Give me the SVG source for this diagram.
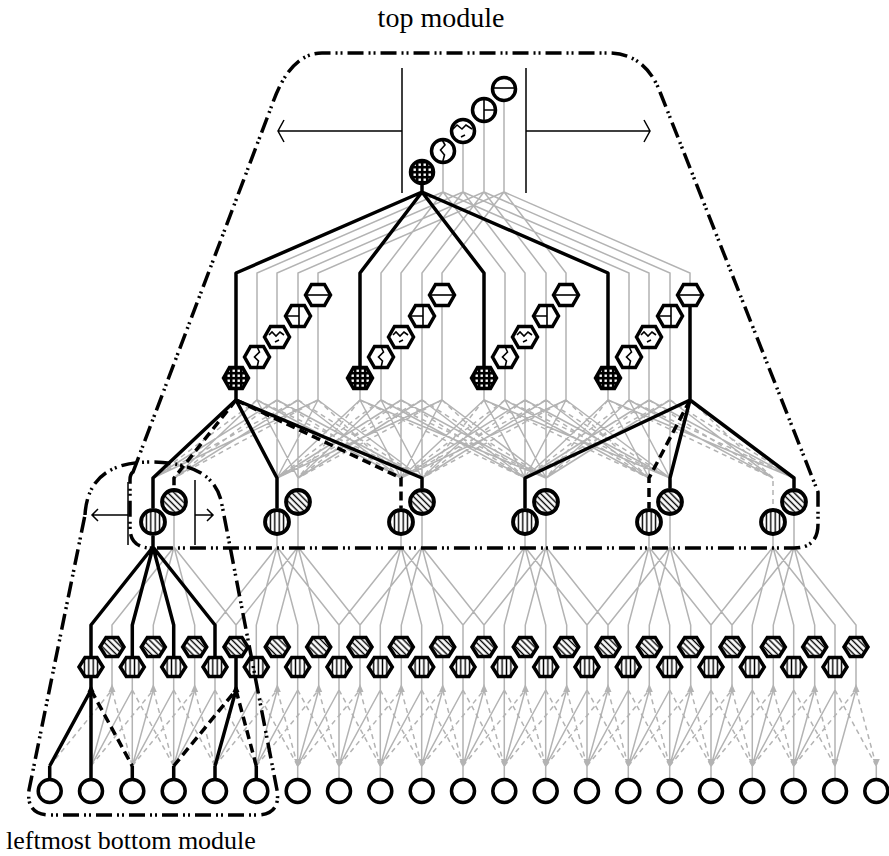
<svg xmlns="http://www.w3.org/2000/svg" width="889" height="856" viewBox="0 0 889 856">
<style>
.g{fill:none;stroke:#b3b3b3;stroke-width:1.5}
.gd{fill:none;stroke:#b3b3b3;stroke-width:1.5;stroke-dasharray:5 4}
.b{fill:none;stroke:#000;stroke-width:3.5;stroke-linejoin:round}
.bd{fill:none;stroke:#000;stroke-width:3.5;stroke-dasharray:9 5}
.t{fill:none;stroke:#000;stroke-width:1.5}
.n{fill:#fff;stroke:#000;stroke-width:3.5}
.m{fill:none;stroke:#000;stroke-width:1.6}
.mod{fill:none;stroke:#000;stroke-width:3.5;stroke-dasharray:16 5 2 3 2 5}
.ag{fill:#b3b3b3}
.ab{fill:#000}
text{font-family:"Liberation Serif","Times New Roman",serif;font-size:27px;fill:#000}
</style>
<defs>
<pattern id="gp" width="5" height="5" patternUnits="userSpaceOnUse"><rect width="5" height="5" fill="#000"/><rect x="1.5" y="1.5" width="2.4" height="2.4" fill="#fff"/></pattern>
<pattern id="vs" width="4.4" height="4" patternUnits="userSpaceOnUse"><rect width="4.4" height="4" fill="#fff"/><rect x="1.5" width="1.4" height="4" fill="#000"/></pattern>
<pattern id="ds" width="4.4" height="4" patternUnits="userSpaceOnUse" patternTransform="rotate(-45)"><rect width="4.4" height="4" fill="#fff"/><rect x="1.5" width="1.4" height="4" fill="#000"/></pattern>
<path id="au" d="M0-6L3.5 2H-3.5Z"/>
<path id="ad" d="M0 6L3.5-2H-3.5Z"/>
<g id="cG"><circle r="11.5" fill="url(#gp)" stroke="#000" stroke-width="3.5"/></g>
<g id="cW"><circle r="11.5" class="n"/><path class="m" d="M-1-11.5L2-6L-2.5-1L1.5 4L-0.5 11.5"/></g>
<g id="cZ"><circle r="11.5" class="n"/><path class="m" d="M-10-2L-6-6L-1-2L3-6L9-2M-2 6L2 4"/></g>
<g id="cH"><circle r="11.5" class="n"/><path class="m" d="M0-11.5V11.5M0 0H11.5"/></g>
<g id="cB"><circle r="11.5" class="n"/><path class="m" d="M-11.5-1H11.5"/></g>
<g id="hG"><polygon points="-12.5,0 -6.5,-10.5 6.5,-10.5 12.5,0 6.5,10.5 -6.5,10.5" fill="url(#gp)" stroke="#000" stroke-width="3.5"/></g>
<g id="hW"><polygon class="n" points="-12.5,0 -6.5,-10.5 6.5,-10.5 12.5,0 6.5,10.5 -6.5,10.5"/><path class="m" d="M0-10.5L2.5-5L-2.5 0L1.5 4L0 10.5"/></g>
<g id="hZ"><polygon class="n" points="-12.5,0 -6.5,-10.5 6.5,-10.5 12.5,0 6.5,10.5 -6.5,10.5"/><path class="m" d="M-8-2L-5-5L-1-1L3-5L7-2M-2 5L2 3"/></g>
<g id="hH"><polygon class="n" points="-12.5,0 -6.5,-10.5 6.5,-10.5 12.5,0 6.5,10.5 -6.5,10.5"/><path class="m" d="M1-10.5V10.5M1 0H-12"/></g>
<g id="hB"><polygon class="n" points="-12.5,0 -6.5,-10.5 6.5,-10.5 12.5,0 6.5,10.5 -6.5,10.5"/><path class="m" d="M-12.5 0H12.5"/></g>
<g id="lV"><circle r="12" fill="url(#vs)" stroke="#000" stroke-width="3.8"/></g>
<g id="lD"><circle r="12" fill="url(#ds)" stroke="#000" stroke-width="3.8"/></g>
<g id="rV"><polygon points="-12,0 -6,-9.5 6,-9.5 12,0 6,9.5 -6,9.5" fill="url(#vs)" stroke="#000" stroke-width="3.5"/></g>
<g id="rD"><polygon points="-12,0 -6,-9.5 6,-9.5 12,0 6,9.5 -6,9.5" fill="url(#ds)" stroke="#000" stroke-width="3.5"/></g>
<g id="bc"><circle r="11.5" class="n"/></g>
</defs>
<rect width="889" height="856" fill="#fff"/>

<g id="connectors">
<path class="g" d="M443 163V192L257 273V346M443 192L381 273V346M443 192L505 273V346M443 192L629 273V346
M463 143V192L277 273V326M463 192L401 273V326M463 192L525 273V326M463 192L649 273V326
M484 122V192L298 273V305M484 192L422 273V305M484 192L546 273V305M484 192L670 273V305
M504 101V192L318 273V284M504 192L442 273V284M504 192L566 273V284M504 192L690 273V284"/>
<path class="g" d="M257 367V400M277 347V400M298 326V400M318 305V400M360 388V400M381 367V400M401 347V400M422 326V400M442 305V400M484 388V400M505 367V400M525 347V400M546 326V400M566 305V400M608 388V400M629 367V400M649 347V400M670 326V400"/>
<path class="g" d="M257 400L174 478M257 400L298 478M257 400L401 478
M277 400L153 478M277 400L277 478M277 400L422 478
M298 400L174 478M298 400L298 478M298 400L401 478
M318 400L153 478M318 400L277 478M318 400L422 478
M360 400L277 478M360 400L401 478M360 400L546 478
M381 400L298 478M381 400L422 478M381 400L525 478
M401 400L277 478M401 400L401 478M401 400L546 478
M422 400L298 478M422 400L422 478M422 400L525 478
M442 400L277 478M442 400L401 478M442 400L546 478
M484 400L401 478M484 400L525 478M484 400L670 478
M505 400L422 478M505 400L546 478M505 400L649 478
M525 400L401 478M525 400L525 478M525 400L670 478
M546 400L422 478M546 400L546 478M546 400L649 478
M566 400L401 478M566 400L525 478M566 400L670 478
M608 400L525 478M608 400L649 478M608 400L794 478
M629 400L546 478M629 400L670 478M629 400L773 478
M649 400L525 478M649 400L649 478M649 400L794 478
M670 400L546 478M670 400L670 478M670 400L773 478
M298 478V488M546 478V488"/>
<path class="gd" d="M257 400L153 478M257 400L422 478
M277 400L174 478M277 400L401 478
M298 400L153 478M298 400L422 478
M318 400L174 478M318 400L401 478
M360 400L298 478M360 400L525 478M401 400L298 478M401 400L525 478M442 400L298 478M442 400L525 478
M381 400L277 478M381 400L546 478M422 400L277 478M422 400L546 478
M484 400L422 478M484 400L649 478M525 400L422 478M525 400L649 478M566 400L422 478M566 400L649 478
M505 400L401 478M505 400L670 478M546 400L401 478M546 400L670 478
M608 400L546 478M608 400L773 478M649 400L546 478M649 400L773 478
M629 400L525 478M629 400L794 478M670 400L525 478M670 400L794 478
M690 400L773 478V508"/>
<path class="g" d="M277 536V547M401 536V547M525 536V547M649 536V547M773 536V547
M174 516V547M298 516V547M422 516V547M546 516V547M670 516V547M794 516V547
M215 657V625L277 547L339 625V657M256.3 657V625L277 547L297.7 625V657
M339 657V625L401 547L463 625V657M380.3 657V625L401 547L421.7 625V657
M463 657V625L525 547L587 625V657M504.3 657V625L525 547L545.7 625V657
M587 657V625L649 547L711 625V657M628.3 657V625L649 547L669.7 625V657
M711 657V625L773 547L835 625V657M752.3 657V625L773 547L793.7 625V657
M112 637V625L174 547L236 625V637M153.3 637V625L174 547L194.7 625V637
M236 637V625L298 547L360 625V637M277.3 637V625L298 547L318.7 625V637
M360 637V625L422 547L484 625V637M401.3 637V625L422 547L442.7 625V637
M484 637V625L546 547L608 625V637M525.3 637V625L546 547L566.7 625V637
M608 637V625L670 547L732 625V637M649.3 637V625L670 547L690.7 625V637
M732 637V625L794 547L856 625V637M773.3 637V625L794 547L814.7 625V637"/>
<path class="g" d="M132.3 677V766M91 766L132.3 690M173.7 677V766M132.3 766L173.7 690M215 677V766M173.7 766L215 690
M256.3 677V766M215 766L256.3 690M297.7 677V766M256.3 766L297.7 690M339 677V766M297.7 766L339 690
M380.3 677V766M339 766L380.3 690M421.7 677V766M380.3 766L421.7 690M463 677V766M421.7 766L463 690
M504.3 677V766M463 766L504.3 690M545.7 677V766M504.3 766L545.7 690M587 677V766M545.7 766L587 690
M628.3 677V766M587 766L628.3 690M669.7 677V766M628.3 766L669.7 690M711 677V766M669.7 766L711 690
M752.3 677V766M711 766L752.3 690M793.7 677V766M752.3 766L793.7 690M835 677V766M793.7 766L835 690
M112 657V690L91 766M153.3 657V690L132.3 766M194.7 657V690L173.7 766M277.3 657V690L256.3 766
M318.7 657V690L297.7 766M360 657V690L339 766M401.3 657V690L380.3 766M442.7 657V690L421.7 766
M484 657V690L463 766M525.3 657V690L504.3 766M566.7 657V690L545.7 766M608 657V690L587 766
M649.3 657V690L628.3 766M690.7 657V690L669.7 766M732 657V690L711 766M773.3 657V690L752.3 766
M814.7 657V690L793.7 766M856 657V690L835 766
M297.7 766V778M339 766V778M380.3 766V778M421.7 766V778M463 766V778M504.3 766V778M545.7 766V778M587 766V778
M628.3 766V778M669.7 766V778M711 766V778M752.3 766V778M793.7 766V778M835 766V778M876.3 766V778"/>
<path class="gd" d="M132.3 690L173.7 766M173.7 690L215 766M215 690L256.3 766M256.3 690L297.7 766M297.7 690L339 766
M339 690L380.3 766M380.3 690L421.7 766M421.7 690L463 766M463 690L504.3 766M504.3 690L545.7 766
M545.7 690L587 766M587 690L628.3 766M628.3 690L669.7 766M669.7 690L711 766M711 690L752.3 766
M752.3 690L793.7 766M793.7 690L835 766M835 690L876.3 766
M49.7 766L112 690L132.3 766M91 766L153.3 690L173.7 766M132.3 766L194.7 690L215 766
M215 766L277.3 690L297.7 766M256.3 766L318.7 690L339 766M297.7 766L360 690L380.3 766
M339 766L401.3 690L421.7 766M380.3 766L442.7 690L463 766M421.7 766L484 690L504.3 766
M463 766L525.3 690L545.7 766M504.3 766L566.7 690L587 766M545.7 766L608 690L628.3 766
M587 766L649.3 690L669.7 766M628.3 766L690.7 690L711 766M669.7 766L732 690L752.3 766
M711 766L773.3 690L793.7 766M752.3 766L814.7 690L835 766M793.7 766L856 690L876.3 766"/>
<g class="ag">
<use href="#au" x="112" y="690"/><use href="#au" x="153.3" y="690"/><use href="#au" x="194.7" y="690"/>
<use href="#au" x="277.3" y="690"/><use href="#au" x="318.7" y="690"/><use href="#au" x="360" y="690"/>
<use href="#au" x="401.3" y="690"/><use href="#au" x="442.7" y="690"/><use href="#au" x="484" y="690"/>
<use href="#au" x="525.3" y="690"/><use href="#au" x="566.7" y="690"/><use href="#au" x="608" y="690"/>
<use href="#au" x="649.3" y="690"/><use href="#au" x="690.7" y="690"/><use href="#au" x="732" y="690"/>
<use href="#au" x="773.3" y="690"/><use href="#au" x="814.7" y="690"/><use href="#au" x="856" y="690"/>
<use href="#ad" x="297.7" y="761"/><use href="#ad" x="339" y="761"/><use href="#ad" x="380.3" y="761"/>
<use href="#ad" x="421.7" y="761"/><use href="#ad" x="463" y="761"/><use href="#ad" x="504.3" y="761"/>
<use href="#ad" x="545.7" y="761"/><use href="#ad" x="587" y="761"/><use href="#ad" x="628.3" y="761"/>
<use href="#ad" x="669.7" y="761"/><use href="#ad" x="711" y="761"/><use href="#ad" x="752.3" y="761"/>
<use href="#ad" x="793.7" y="761"/><use href="#ad" x="835" y="761"/><use href="#ad" x="876.3" y="761"/>
</g>
<path class="b" d="M422 184V192M422 192L236 273V367M422 192L360 273V367M422 192L484 273V367M422 192L608 273V367"/>
<path class="b" d="M236 388V400M236 400L153 478V508M236 400L277 478V508M236 400L422 478V488
M690 305V400M690 400L525 478V508M690 400L670 478V488M690 400L794 478V488"/>
<path class="bd" d="M236 400L174 478V488M236 400L401 478V508M690 400L649 478V508"/>
<path class="b" d="M153 536V547M91 657V625L153 547L215 625V657M132.3 657V625L153 547L173.7 625V657"/>
<path class="b" d="M91 677V766M49.7 766L91 690M236 657V690L215 766
M49.7 766V778M91 766V778M132.3 766V778M173.7 766V778M215 766V778M256.3 766V778"/>
<path class="bd" d="M91 690L132.3 766M173.7 766L236 690L256.3 766"/>
<g class="ab"><use href="#au" x="91" y="690"/><use href="#au" x="236" y="690"/></g>
</g>

<g id="n_top0"><use href="#cG" x="422" y="172"/></g>
<g id="n_top1"><use href="#cW" x="443" y="151"/></g>
<g id="n_top2"><use href="#cZ" x="463" y="131"/></g>
<g id="n_top3"><use href="#cH" x="484" y="110"/></g>
<g id="n_top4"><use href="#cB" x="504" y="89"/></g>

<g id="n_m0_0"><use href="#hG" x="236" y="378"/></g>
<g id="n_m0_1"><use href="#hW" x="257" y="357"/></g>
<g id="n_m0_2"><use href="#hZ" x="277" y="337"/></g>
<g id="n_m0_3"><use href="#hH" x="298" y="316"/></g>
<g id="n_m0_4"><use href="#hB" x="318" y="295"/></g>
<g id="n_m1_0"><use href="#hG" x="360" y="378"/></g>
<g id="n_m1_1"><use href="#hW" x="381" y="357"/></g>
<g id="n_m1_2"><use href="#hZ" x="401" y="337"/></g>
<g id="n_m1_3"><use href="#hH" x="422" y="316"/></g>
<g id="n_m1_4"><use href="#hB" x="442" y="295"/></g>
<g id="n_m2_0"><use href="#hG" x="484" y="378"/></g>
<g id="n_m2_1"><use href="#hW" x="505" y="357"/></g>
<g id="n_m2_2"><use href="#hZ" x="525" y="337"/></g>
<g id="n_m2_3"><use href="#hH" x="546" y="316"/></g>
<g id="n_m2_4"><use href="#hB" x="566" y="295"/></g>
<g id="n_m3_0"><use href="#hG" x="608" y="378"/></g>
<g id="n_m3_1"><use href="#hW" x="629" y="357"/></g>
<g id="n_m3_2"><use href="#hZ" x="649" y="337"/></g>
<g id="n_m3_3"><use href="#hH" x="670" y="316"/></g>
<g id="n_m3_4"><use href="#hB" x="690" y="295"/></g>

<g id="n_l0v"><use href="#lV" x="153" y="522"/></g><g id="n_l0d"><use href="#lD" x="174" y="502"/></g>
<g id="n_l1v"><use href="#lV" x="277" y="522"/></g><g id="n_l1d"><use href="#lD" x="298" y="502"/></g>
<g id="n_l2v"><use href="#lV" x="401" y="522"/></g><g id="n_l2d"><use href="#lD" x="422" y="502"/></g>
<g id="n_l3v"><use href="#lV" x="525" y="522"/></g><g id="n_l3d"><use href="#lD" x="546" y="502"/></g>
<g id="n_l4v"><use href="#lV" x="649" y="522"/></g><g id="n_l4d"><use href="#lD" x="670" y="502"/></g>
<g id="n_l5v"><use href="#lV" x="773" y="522"/></g><g id="n_l5d"><use href="#lD" x="794" y="502"/></g>

<g id="n_rd0"><use href="#rD" x="112" y="647"/></g><g id="n_rd1"><use href="#rD" x="153.3" y="647"/></g>
<g id="n_rd2"><use href="#rD" x="194.7" y="647"/></g><g id="n_rd3"><use href="#rD" x="236" y="647"/></g>
<g id="n_rd4"><use href="#rD" x="277.3" y="647"/></g><g id="n_rd5"><use href="#rD" x="318.7" y="647"/></g>
<g id="n_rd6"><use href="#rD" x="360" y="647"/></g><g id="n_rd7"><use href="#rD" x="401.3" y="647"/></g>
<g id="n_rd8"><use href="#rD" x="442.7" y="647"/></g><g id="n_rd9"><use href="#rD" x="484" y="647"/></g>
<g id="n_rd10"><use href="#rD" x="525.3" y="647"/></g><g id="n_rd11"><use href="#rD" x="566.7" y="647"/></g>
<g id="n_rd12"><use href="#rD" x="608" y="647"/></g><g id="n_rd13"><use href="#rD" x="649.3" y="647"/></g>
<g id="n_rd14"><use href="#rD" x="690.7" y="647"/></g><g id="n_rd15"><use href="#rD" x="732" y="647"/></g>
<g id="n_rd16"><use href="#rD" x="773.3" y="647"/></g><g id="n_rd17"><use href="#rD" x="814.7" y="647"/></g>
<g id="n_rd18"><use href="#rD" x="856" y="647"/></g>

<g id="n_rv0"><use href="#rV" x="91" y="667"/></g><g id="n_rv1"><use href="#rV" x="132.3" y="667"/></g>
<g id="n_rv2"><use href="#rV" x="173.7" y="667"/></g><g id="n_rv3"><use href="#rV" x="215" y="667"/></g>
<g id="n_rv4"><use href="#rV" x="256.3" y="667"/></g><g id="n_rv5"><use href="#rV" x="297.7" y="667"/></g>
<g id="n_rv6"><use href="#rV" x="339" y="667"/></g><g id="n_rv7"><use href="#rV" x="380.3" y="667"/></g>
<g id="n_rv8"><use href="#rV" x="421.7" y="667"/></g><g id="n_rv9"><use href="#rV" x="463" y="667"/></g>
<g id="n_rv10"><use href="#rV" x="504.3" y="667"/></g><g id="n_rv11"><use href="#rV" x="545.7" y="667"/></g>
<g id="n_rv12"><use href="#rV" x="587" y="667"/></g><g id="n_rv13"><use href="#rV" x="628.3" y="667"/></g>
<g id="n_rv14"><use href="#rV" x="669.7" y="667"/></g><g id="n_rv15"><use href="#rV" x="711" y="667"/></g>
<g id="n_rv16"><use href="#rV" x="752.3" y="667"/></g><g id="n_rv17"><use href="#rV" x="793.7" y="667"/></g>
<g id="n_rv18"><use href="#rV" x="835" y="667"/></g>

<g id="n_b0"><use href="#bc" x="49.7" y="791"/></g><g id="n_b1"><use href="#bc" x="91" y="791"/></g>
<g id="n_b2"><use href="#bc" x="132.3" y="791"/></g><g id="n_b3"><use href="#bc" x="173.7" y="791"/></g>
<g id="n_b4"><use href="#bc" x="215" y="791"/></g><g id="n_b5"><use href="#bc" x="256.3" y="791"/></g>
<g id="n_b6"><use href="#bc" x="297.7" y="791"/></g><g id="n_b7"><use href="#bc" x="339" y="791"/></g>
<g id="n_b8"><use href="#bc" x="380.3" y="791"/></g><g id="n_b9"><use href="#bc" x="421.7" y="791"/></g>
<g id="n_b10"><use href="#bc" x="463" y="791"/></g><g id="n_b11"><use href="#bc" x="504.3" y="791"/></g>
<g id="n_b12"><use href="#bc" x="545.7" y="791"/></g><g id="n_b13"><use href="#bc" x="587" y="791"/></g>
<g id="n_b14"><use href="#bc" x="628.3" y="791"/></g><g id="n_b15"><use href="#bc" x="669.7" y="791"/></g>
<g id="n_b16"><use href="#bc" x="711" y="791"/></g><g id="n_b17"><use href="#bc" x="752.3" y="791"/></g>
<g id="n_b18"><use href="#bc" x="793.7" y="791"/></g><g id="n_b19"><use href="#bc" x="835" y="791"/></g>
<g id="n_b20"><use href="#bc" x="876.3" y="791"/></g>

<g id="annotations">
<path class="t" d="M402 68V193M526 68V193M402 131H278M284 120L278 131L284 142M526 131H650M644 120L650 131L644 142"/>
<path class="t" d="M128 482V545M128 515H92M98 509L92 515L98 521M195 480V545M195 515H213M207 509L213 515L207 521"/>
<path class="mod" d="M133 472L272 105Q290 53 322 53L608 53Q645 53 660 92L818 492V524Q818 548 794 548L152 548Q130 548 130 528V480Q130 474 133 472Z"/>
<path class="mod" d="M85 515Q88 462 150 462Q215 462 222 505L277 790Q281 815 256 815L50 815Q26 815 29 790Z"/>
<text x="441" y="27" text-anchor="middle" style="font-size:28px">top module</text>
<text x="6" y="849" style="font-size:26px">leftmost bottom module</text>
</g>
</svg>
